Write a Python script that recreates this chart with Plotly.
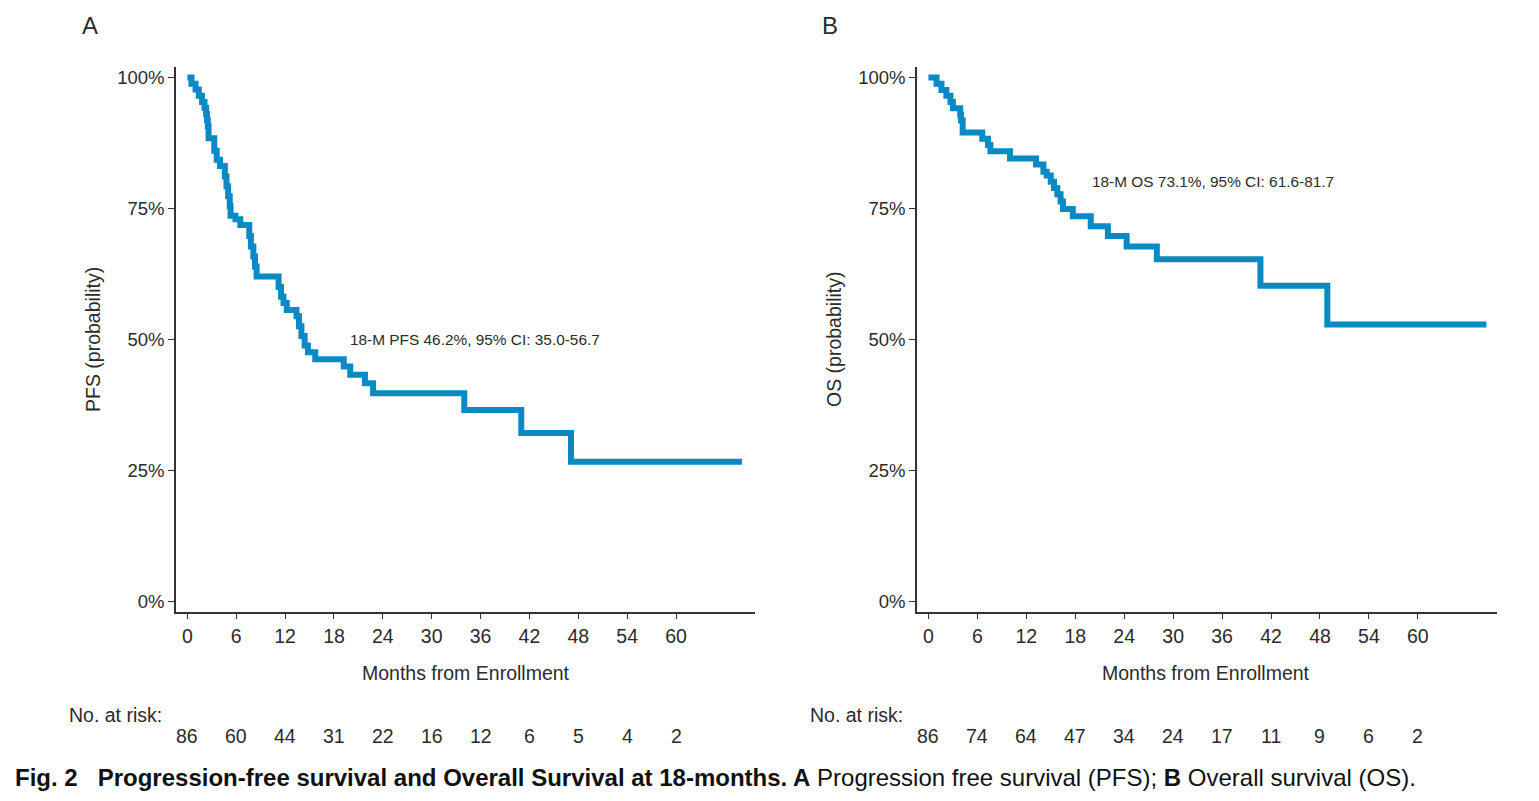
import plotly.graph_objects as go

W, H = 1539, 801

# ---------------- data ----------------
pfs_time = [0, 0.5, 1.0, 1.4, 1.8, 2.1, 2.3, 2.4, 2.5, 2.6, 3.3, 3.6, 4.0, 4.6, 4.8, 5.0, 5.2, 5.3,
            5.9, 6.5, 7.6, 7.8, 8.1, 8.3, 8.5, 11.2, 11.5, 11.8, 12.2, 13.4, 13.7, 14.0, 14.4, 14.8,
            15.7, 19.2, 20.0, 21.8, 22.8, 34.0, 41.0, 47.1, 68.1]
pfs_surv = [100, 98.8, 97.7, 96.5, 95.3, 94.2, 93.0, 91.9, 90.7, 88.4, 86.0, 84.3, 83.1, 81.1, 79.2,
            77.3, 75.4, 73.6, 72.9, 71.8, 69.7, 67.7, 65.8, 63.9, 62.0, 60.0, 58.1, 56.9, 55.6, 54.4,
            52.5, 50.6, 48.8, 47.5, 46.2, 44.8, 43.2, 41.6, 39.7, 36.5, 32.1, 26.6, 26.6]

os_time = [0, 1.0, 1.6, 2.2, 2.7, 3.0, 3.9, 4.0, 4.2, 6.6, 7.3, 7.6, 10.0, 13.2, 14.1, 14.5, 15.0,
           15.4, 15.8, 16.2, 16.5, 17.7, 19.9, 22.0, 24.3, 28.0, 40.7, 48.9, 68.4]
os_surv = [100, 98.8, 97.6, 96.5, 95.3, 94.1, 92.9, 91.8, 89.5, 88.3, 87.1, 85.9, 84.5, 83.4, 82.0,
           81.3, 80.1, 78.9, 77.7, 76.3, 74.9, 73.5, 71.6, 69.7, 67.7, 65.3, 60.2, 52.8, 52.8]

x_ticks = [0, 6, 12, 18, 24, 30, 36, 42, 48, 54, 60]
y_ticks = [0, 25, 50, 75, 100]
y_tick_labels = ["0%", "25%", "50%", "75%", "100%"]
pfs_at_risk = [86, 60, 44, 31, 22, 16, 12, 6, 5, 4, 2]
os_at_risk = [86, 74, 64, 47, 34, 24, 17, 11, 9, 6, 2]

pfs_note = "18-M PFS 46.2%, 95% CI: 35.0-56.7"
os_note = "18-M OS 73.1%, 95% CI: 61.6-81.7"

# ---------------- styling ----------------
FONT = "Liberation Sans, Arial, sans-serif"
TXT = "#2b2b2b"
BLUE = "#0a89c4"
FS = 19.5

def px_x(p):
    return p / W

def px_y(p):
    return 1 - p / H

fig = go.Figure()
fig.add_trace(go.Scatter(x=pfs_time, y=pfs_surv, mode="lines", line=dict(shape="hv", color=BLUE, width=6),
                         xaxis="x", yaxis="y", showlegend=False, hoverinfo="skip"))
fig.add_trace(go.Scatter(x=os_time, y=os_surv, mode="lines", line=dict(shape="hv", color=BLUE, width=6),
                         xaxis="x2", yaxis="y2", showlegend=False, hoverinfo="skip"))

y_dom = [px_y(611.5), px_y(67)]
xr = [-1.4, 69.7]
yr = [-2, 102]

common_x = dict(range=xr, tickvals=x_ticks, showline=True, linecolor="#333", linewidth=1.5,
                ticks="outside", ticklen=6, tickcolor="#333", tickwidth=1.2, showgrid=False,
                zeroline=False, tickfont=dict(family=FONT, size=FS, color=TXT), automargin=False,
                fixedrange=True)
common_y = dict(range=yr, tickvals=y_ticks, ticktext=y_tick_labels, showline=True, linecolor="#333",
                linewidth=1.5, ticks="outside", ticklen=6, tickcolor="#333", tickwidth=1.2,
                showgrid=False, zeroline=False, tickfont=dict(family=FONT, size=18.5, color=TXT),
                automargin=False, fixedrange=True)

fig.update_layout(
    width=W, height=H,
    margin=dict(l=0, r=0, t=0, b=0),
    paper_bgcolor="white", plot_bgcolor="white",
    xaxis=dict(domain=[px_x(176), px_x(755)], anchor="y", **common_x),
    yaxis=dict(domain=y_dom, anchor="x", **common_y),
    xaxis2=dict(domain=[px_x(917), px_x(1497)], anchor="y2", **common_x),
    yaxis2=dict(domain=y_dom, anchor="x2", **common_y),
    font=dict(family=FONT, color=TXT),
)

def note(text, x, y, size, xanchor="center", angle=0, color=TXT, family=FONT, xref="paper", yref="paper"):
    return dict(text=text, x=x, y=y, xref=xref, yref=yref, xanchor=xanchor, yanchor="middle",
                showarrow=False, textangle=angle, font=dict(size=size, family=family, color=color))

ann = []
ann.append(note("A", px_x(90), px_y(26), 24))
ann.append(note("B", px_x(830), px_y(26), 24))
ann.append(note("PFS (probability)", px_x(93), px_y(340), FS, angle=-90))
ann.append(note("OS (probability)", px_x(834), px_y(340), FS, angle=-90))
ann.append(note("Months from Enrollment", px_x(466), px_y(673), FS))
ann.append(note("Months from Enrollment", px_x(1206), px_y(673), FS))
ann.append(note(pfs_note, 19.7, 50.0, 15.4, xanchor="left", xref="x", yref="y"))
ann.append(note(os_note, 19.8, 80.1, 15.4, xanchor="left", xref="x2", yref="y2"))
ann.append(note("No. at risk:", px_x(67), px_y(715), FS, xanchor="left"))
ann.append(note("No. at risk:", px_x(808), px_y(715), FS, xanchor="left"))
for t, n in zip(x_ticks, pfs_at_risk):
    ann.append(note(str(n), t, px_y(736), FS, xref="x"))
for t, n in zip(x_ticks, os_at_risk):
    ann.append(note(str(n), t, px_y(736), FS, xref="x2"))
ann.append(note("<b>Fig. 2   Progression-free survival and Overall Survival at 18-months. A</b> "
                "Progression free survival (PFS); <b>B</b> Overall survival (OS).",
                px_x(13), px_y(777), 24, xanchor="left", color="#111",
                family="Liberation Sans, Arial, sans-serif"))
fig.update_layout(annotations=ann)

fig.write_html("out.html")
